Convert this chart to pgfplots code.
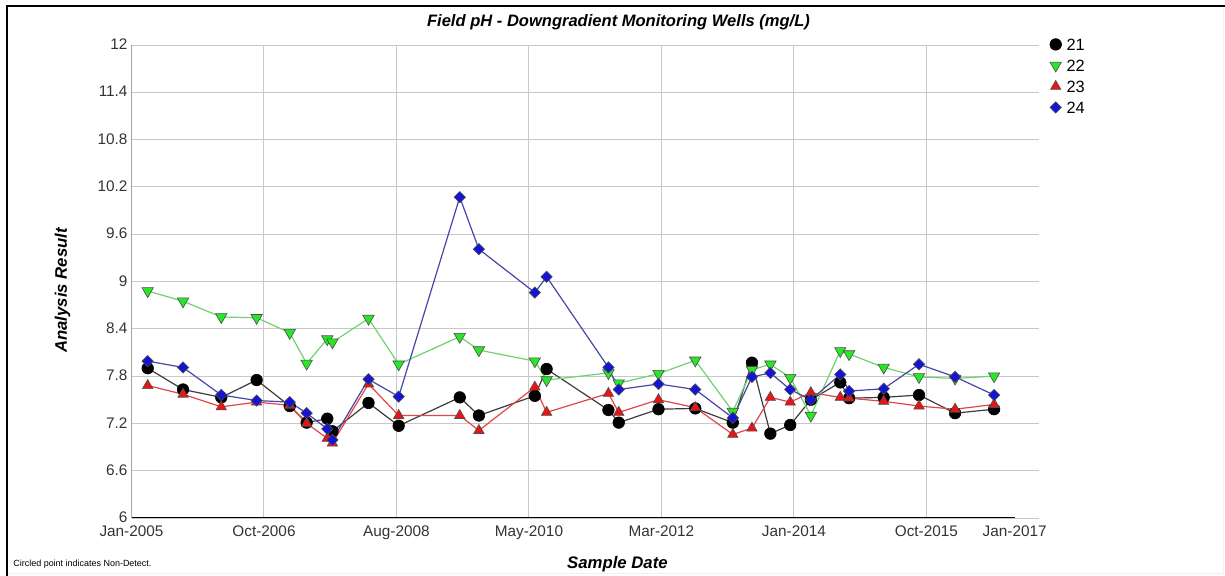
\documentclass[border=0pt]{standalone}
\usepackage{fontspec}
\setmainfont{Liberation Sans}
\usepackage{pgfplots}
\pgfplotsset{compat=1.18}
\usepackage{pgfplotstable}

\definecolor{gridgray}{RGB}{200,200,200}
\definecolor{line21}{RGB}{60,60,60}
\definecolor{fill22}{RGB}{40,230,40}
\definecolor{line22}{RGB}{110,210,110}
\definecolor{fill23}{RGB}{235,20,20}
\definecolor{line23}{RGB}{225,70,70}
\definecolor{fill24}{RGB}{20,20,215}
\definecolor{line24}{RGB}{70,70,170}

% sample date as decimal year; wells 21-24
\pgfplotstableread{
d        w21   w22   w23   w24
2005.22  7.90  8.88  7.68  7.99
2005.70  7.63  8.75  7.57  7.91
2006.22  7.53  8.55  7.41  7.56
2006.70  7.75  8.54  7.47  7.49
2007.15  7.42  8.35  7.43  7.47
2007.38  7.21  7.96  7.20  7.33
2007.66  7.26  8.27  7.01  7.13
2007.73  7.10  8.23  6.95  6.99
2008.22  7.46  8.53  7.70  7.76
2008.63  7.17  7.95  7.30  7.54
2009.46  7.53  8.30  7.30  10.07
2009.72  7.30  8.13  7.11  9.41
2010.48  7.55  7.99  7.66  8.86
2010.64  7.89  7.75  7.34  9.06
2011.48  7.37  7.84  7.58  7.91
2011.62  7.21  7.71  7.34  7.63
2012.16  7.38  7.83  7.50  7.70
2012.66  7.39  8.00  7.40  7.63
2013.17  7.21  7.35  7.06  7.27
2013.43  7.97  7.88  7.14  7.79
2013.68  7.07  7.95  7.53  7.84
2013.95  7.18  7.78  7.47  7.63
2014.23  7.50  7.30  7.59  7.50
2014.63  7.72  8.12  7.53  7.82
2014.75  7.52  8.08  7.52  7.61
2015.22  7.53  7.91  7.48  7.64
2015.70  7.56  7.79  7.42  7.95
2016.19  7.33  7.77  7.38  7.79
2016.72  7.38  7.80  7.44  7.56
}\wells

\begin{document}
\begin{tikzpicture}
% outer frame
\draw[gray!12, line width=0.5bp] (611.5bp,285bp) -- (611.5bp,1.5bp) -- (3.5bp,1.5bp);
\draw[black, line width=0.8bp] (3.5bp,0bp) -- (3.5bp,285bp) -- (612.5bp,285bp);
\begin{axis}[
    at={(65.75bp,29bp)}, anchor=south west,
    scale only axis, width=453.75bp, height=236.5bp,
    xmin=2005, xmax=2017.33, ymin=6, ymax=12,
    axis line style={draw=none},
    major tick length=0pt,
    xtick={2006.8,2008.6,2010.4,2012.2,2014,2015.8},
    xticklabels={Oct-2006,Aug-2008,May-2010,Mar-2012,Jan-2014,Oct-2015},
    extra x ticks={2005,2017},
    extra x tick labels={Jan-2005,Jan-2017},
    extra x tick style={grid=none},
    ytick={6,6.6,7.2,7.8,8.4,9,9.6,10.2,10.8,11.4,12},
    yticklabels={6,6.6,7.2,7.8,8.4,9,9.6,10.2,10.8,11.4,12},
    grid=major,
    grid style={gridgray, line width=0.5bp},
    /pgf/number format/assume math mode=true,
    tick label style={font=\fontsize{7.7}{9}\selectfont, text=black!80},
    xticklabel style={inner sep=0pt, anchor=north, yshift=-3.6bp},
    yticklabel style={inner sep=0pt, anchor=east, xshift=-1.8bp, yshift=0.3bp},
    title={Field pH - Downgradient Monitoring Wells (mg/L)},
    title style={at={(axis description cs:0.5366,1.040)}, anchor=base, yshift=-6bp,
        font=\fontsize{8.3}{10}\selectfont\bfseries\itshape, inner sep=0pt},
    xlabel={Sample Date},
    xlabel style={at={(axis description cs:0.5355,-0.1078)}, anchor=base,
        font=\fontsize{8.4}{10}\selectfont\bfseries\itshape, inner sep=0pt},
    ylabel={Analysis Result},
    ylabel style={at={(axis description cs:-0.0711,0.481)}, anchor=base, rotate=0,
        font=\fontsize{8.4}{10}\selectfont\bfseries\itshape, inner sep=0pt},
    legend cell align=left,
    legend image code/.code={\draw[#1, only marks] plot coordinates {(0bp,0bp)};},
    legend style={at={(axis description cs:1.0116,1.019)}, anchor=north west,
        draw=none, fill=none, inner sep=0pt, row sep=2.5bp, column sep=1.5bp,
        font=\fontsize{8.2}{9}\selectfont,
        nodes={inner sep=1bp, text height=6bp, text depth=0bp}},
]
\addplot[line21, line width=0.6bp, mark=*, mark size=2.9bp,
    mark options={fill=black, draw=black, line width=0.3bp}]
    table[x=d, y=w21] {\wells};
\addplot[line22, line width=0.6bp, mark=triangle*, mark size=3.3bp,
    mark options={fill=fill22, draw=black!70, line width=0.3bp, rotate=180}]
    table[x=d, y=w22] {\wells};
\addplot[line23, line width=0.6bp, mark=triangle*, mark size=3bp,
    mark options={fill=fill23, draw=black!70, line width=0.3bp}]
    table[x=d, y=w23] {\wells};
\addplot[line24, line width=0.6bp, mark=square*, mark size=2bp,
    mark options={fill=fill24, draw=black!70, line width=0.3bp, rotate=45}]
    table[x=d, y=w24] {\wells};
\legend{21,22,23,24}
\draw[black, line width=0.8bp] (axis cs:2005,12) -- (axis cs:2005,6) -- (axis cs:2017,6);
\end{axis}
\node[anchor=base west, inner sep=0pt, font=\fontsize{4.5}{5}\selectfont] at (6.5bp,4.65bp)
    {Circled point indicates Non-Detect.};
\pgfresetboundingbox
\path (0bp,0bp) rectangle (612.5bp,288bp);
\end{tikzpicture}
\end{document}
